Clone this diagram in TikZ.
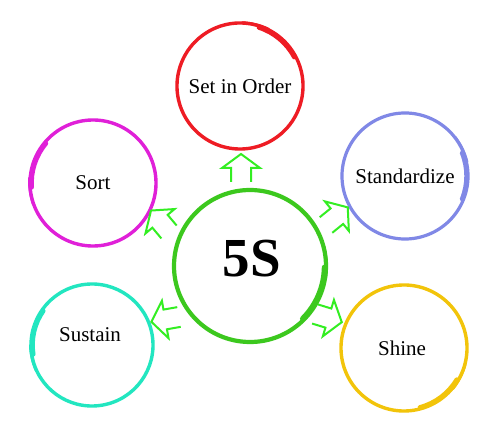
\documentclass[tikz,border=0pt]{standalone}
\usepackage{fontspec}
\setmainfont{Liberation Serif}
\definecolor{cred}{HTML}{EE1C24}
\definecolor{cmag}{HTML}{E020D8}
\definecolor{cblue}{HTML}{8088E6}
\definecolor{cturq}{HTML}{22E6C0}
\definecolor{cyel}{HTML}{F2C40A}
\definecolor{cgreen}{HTML}{3CC81E}
\definecolor{agreen}{HTML}{33EE22}
% #1 node, #2 radius, #3 seam angle, #4 colour, #5 line width
\newcommand\brushring[5]{%
  \draw[#4, line width=#5] ([shift={(#3-6:#2pt)}]#1.center) arc[start angle=#3-6, end angle=#3-366, radius=#2pt];
  \draw[#4, line width=#5+1.2pt, line cap=round] ([shift={(#3-6:#2pt-1.5pt)}]#1.center) arc[start angle=#3-6, end angle=#3-50, radius=#2pt-1.5pt];
  \draw[#4, line width=1.5pt, line cap=round] ([shift={(#3+10:#2pt+1pt)}]#1.center) arc[start angle=#3+10, end angle=#3-14, radius=#2pt+3.5pt];
}
\newcommand\blockarrow[2]{%
  \draw[arrowshape, shift={(#1)}, rotate=#2] (0,10) -- (14,10) -- (14,19) -- (28,0) -- (14,-19) -- (14,-10) -- (0,-10);
}
\tikzset{
  lbl/.style={circle, inner sep=0pt, text=black, font=\fontsize{21}{25}\selectfont},
  arrowshape/.style={draw=agreen, line width=2pt, line join=miter},
}
\begin{document}
\begin{tikzpicture}[x=1pt, y=1pt]
\useasboundingbox[fill=white] (0,0) rectangle (500,436);
% nodes
\node[lbl, minimum size=154pt] (c5s) at (250,170) {};
\node[text=black, font=\fontsize{55}{60}\selectfont\bfseries] (t5s) at (252,177) {5S};
\node[lbl, minimum size=126pt] (set) at (240,350) {Set in Order};
\node[lbl, minimum size=126pt] (sort) at (93,253) {Sort};
\node[lbl, minimum size=126pt] (std) at (405,260) {Standardize};
\node[lbl, minimum size=126pt] (shine) at (404,88) {};
\node[text=black, font=\fontsize{21}{25}\selectfont] (tshine) at (402,88) {Shine};
\node[lbl, minimum size=122pt] (sus) at (92,91) {};
\node[text=black, font=\fontsize{21}{25}\selectfont] (tsus) at (90,101) {Sustain};
% rings
\brushring{c5s}{76}{5}{cgreen}{4.2pt}
\brushring{set}{63}{78}{cred}{3.4pt}
\brushring{sort}{63}{190}{cmag}{3.4pt}
\brushring{std}{63}{28}{cblue}{3.2pt}
\brushring{shine}{63}{-25}{cyel}{3.4pt}
\brushring{sus}{61}{195}{cturq}{3.4pt}
% arrows
\coordinate (aup) at (241,254);
\coordinate (asort) at (169,204);
\coordinate (astd) at (326,211);
\coordinate (asus) at (179,119);
\coordinate (ashine) at (315,122);
\blockarrow{aup}{90}
\blockarrow{asort}{130}
\blockarrow{astd}{39}
\blockarrow{asus}{190}
\blockarrow{ashine}{-17}
\end{tikzpicture}
\end{document}
